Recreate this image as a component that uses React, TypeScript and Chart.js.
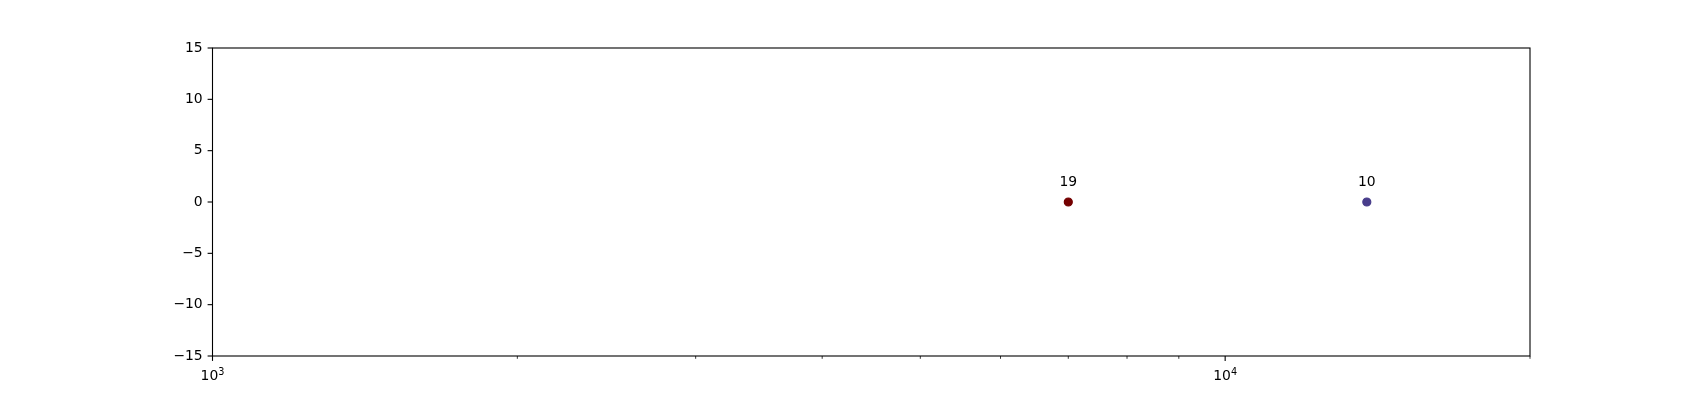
import React, { useEffect, useRef } from "react";
import { Chart, registerables } from "chart.js";

Chart.register(...registerables);

const xValues = [7000, 13800];
const yValues = [0, 0];
const pointLabels = ["19", "10"];
const pointColors = ["#740000", "#483d8b"];

const xMin = 1000;
const xMax = 20000;
const xTickValues = [1000, 2000, 3000, 4000, 5000, 6000, 7000, 8000, 9000, 10000, 20000];
const xMajorExponents: Record<number, string> = { 1000: "3", 10000: "4" };
const yMin = -15;
const yMax = 15;
const yStep = 5;

const FONT = "'DejaVu Sans', sans-serif";
const FS = 13.9;
const FS_SUP = 9.7;

const framePlugin = {
  id: "frameAndTicks",
  afterDraw(chart: any) {
    const { ctx, chartArea } = chart;
    const xs = chart.scales.x;
    const ys = chart.scales.y;
    ctx.save();
    ctx.strokeStyle = "#000";
    ctx.lineWidth = 1.1;
    ctx.strokeRect(chartArea.left, chartArea.top, chartArea.right - chartArea.left, chartArea.bottom - chartArea.top);
    xs.ticks.forEach((t: any) => {
      const px = xs.getPixelForValue(t.value);
      const major = xMajorExponents[t.value] !== undefined;
      const len = major ? 4.9 : 2.8;
      ctx.lineWidth = major ? 1.1 : 0.8;
      ctx.beginPath();
      ctx.moveTo(px, chartArea.bottom);
      ctx.lineTo(px, chartArea.bottom + len);
      ctx.stroke();
    });
    ctx.lineWidth = 1.1;
    ys.ticks.forEach((t: any) => {
      const py = ys.getPixelForValue(t.value);
      ctx.beginPath();
      ctx.moveTo(chartArea.left, py);
      ctx.lineTo(chartArea.left - 4.9, py);
      ctx.stroke();
    });
    // x major tick labels as 10^n (mathtext-like)
    ctx.fillStyle = "#000";
    ctx.textBaseline = "alphabetic";
    ctx.textAlign = "left";
    xs.ticks.forEach((t: any) => {
      const exp = xMajorExponents[t.value];
      if (exp === undefined) return;
      const px = xs.getPixelForValue(t.value);
      ctx.font = `${FS}px ${FONT}`;
      const wBase = ctx.measureText("10").width;
      ctx.font = `${FS_SUP}px ${FONT}`;
      const wExp = ctx.measureText(exp).width;
      const x0 = px - (wBase + wExp) / 2;
      const baseY = chartArea.bottom + 24;
      ctx.font = `${FS}px ${FONT}`;
      ctx.fillText("10", x0, baseY);
      ctx.font = `${FS_SUP}px ${FONT}`;
      ctx.fillText(exp, x0 + wBase, baseY - 5);
    });
    ctx.restore();
  },
};

const labelPlugin = {
  id: "pointLabels",
  afterDatasetsDraw(chart: any) {
    const { ctx } = chart;
    const meta = chart.getDatasetMeta(0);
    ctx.save();
    ctx.fillStyle = "#000";
    ctx.font = `${FS}px ${FONT}`;
    ctx.textAlign = "center";
    ctx.textBaseline = "alphabetic";
    meta.data.forEach((el: any, i: number) => {
      ctx.fillText(pointLabels[i], el.x, el.y - 15.6);
    });
    ctx.restore();
  },
};

export default function App() {
  const ref = useRef<HTMLCanvasElement | null>(null);
  useEffect(() => {
    if (!ref.current) return;
    const chart = new Chart(ref.current, {
      type: "scatter",
      data: {
        datasets: [
          {
            data: xValues.map((x, i) => ({ x, y: yValues[i] })),
            backgroundColor: pointColors,
            borderColor: pointColors,
            borderWidth: 1.2,
            pointRadius: 4,
            pointHoverRadius: 4,
          },
        ],
      },
      options: {
        animation: false,
        responsive: true,
        maintainAspectRatio: false,
        layout: { padding: { top: 48, right: 170, bottom: 0, left: 0 } },
        plugins: { legend: { display: false }, tooltip: { enabled: false } },
        scales: {
          x: {
            type: "logarithmic",
            min: xMin,
            max: xMax,
            grid: { display: false, drawTicks: false },
            border: { display: false },
            afterBuildTicks: (scale: any) => {
              scale.ticks = xTickValues.map((v) => ({ value: v }));
            },
            afterFit: (scale: any) => {
              scale.height = 44;
            },
            ticks: {
              display: false,
              autoSkip: false,
              maxRotation: 0,
              minRotation: 0,
            },
          },
          y: {
            type: "linear",
            min: yMin,
            max: yMax,
            grid: { display: false, drawTicks: false },
            border: { display: false },
            afterFit: (scale: any) => {
              scale.width = 212.5;
            },
            ticks: {
              stepSize: yStep,
              padding: 9.8,
              color: "#000",
              font: { family: FONT, size: FS },
              callback: (v: any) => String(v).replace("-", "\u2212"),
            },
          },
        },
      },
      plugins: [framePlugin, labelPlugin],
    });
    return () => chart.destroy();
  }, []);
  return (
    <div style={{ position: "absolute", left: 0, top: 0, width: 1700, height: 400, background: "#fff" }}>
      <canvas ref={ref} />
    </div>
  );
}
